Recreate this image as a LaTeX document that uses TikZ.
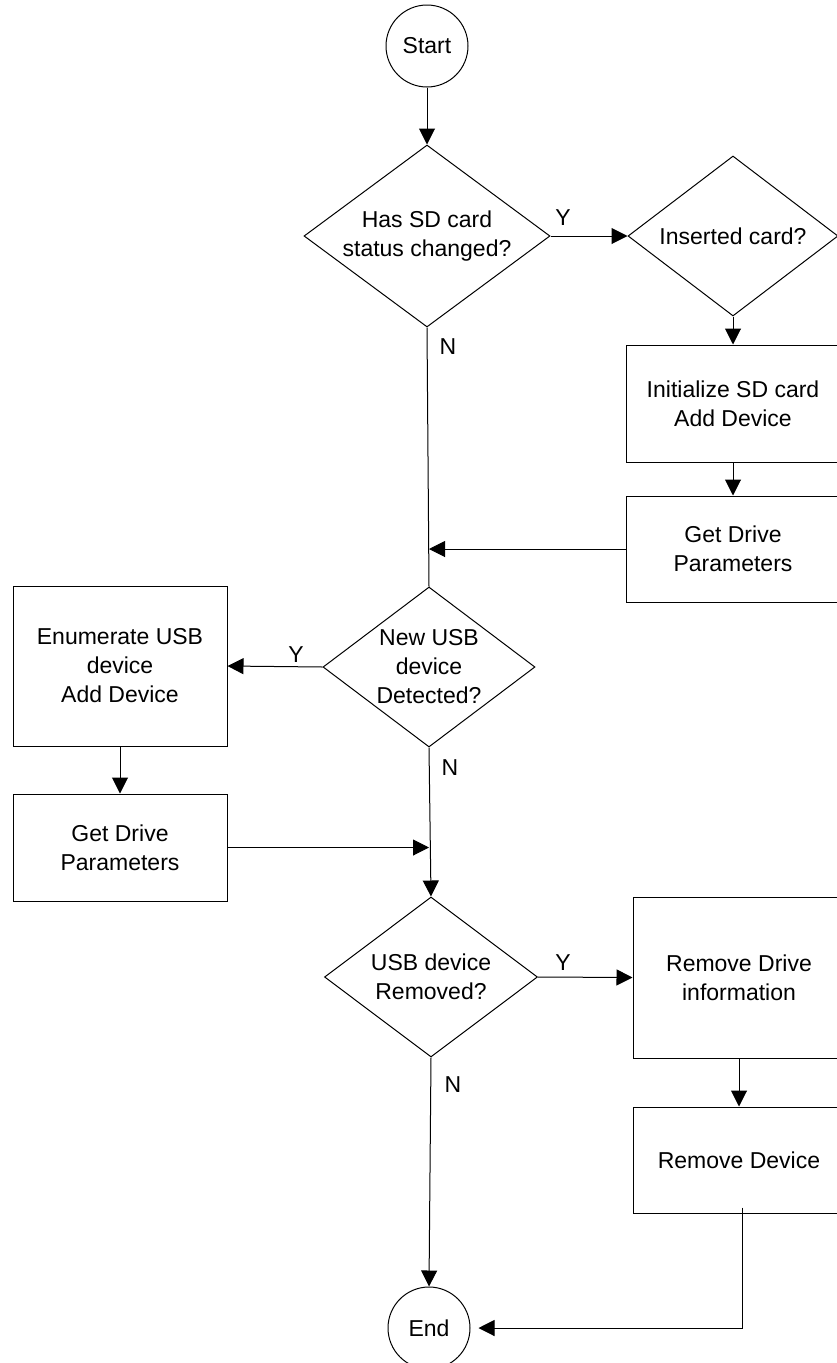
\documentclass[tikz,border=0pt]{standalone}
\usepackage{fontspec}
\setmainfont{Liberation Sans}
\usetikzlibrary{shapes.geometric,arrows.meta}
\begin{document}
\begin{tikzpicture}[x=1pt,y=-1pt,
  every node/.style={font=\fontsize{23}{29}\selectfont, text=black},
  line/.style={draw=black, line width=1pt},
  arr/.style={line, -{Triangle[length=16pt,width=16pt]}},
  term/.style={circle, draw=black, line width=1pt, minimum size=82pt, inner sep=0pt},
  dec/.style={diamond, draw=black, line width=1pt, inner sep=0pt},
  proc/.style={rectangle, draw=black, line width=1pt, inner sep=0pt, align=center},
  lab/.style={align=center, inner sep=0pt}]
\useasboundingbox (0,0) rectangle (836,1363);
\fill[white] (0,0) rectangle (836,1363);

% terminals
\node[term] (start) at (427,46) {Start};
\node[term] (end) at (429,1328) {End};

% decisions
\node[dec, minimum width=246pt, minimum height=182pt] (d1) at (427,236) {};
\node[lab] (d1t) at (427,236) {Has SD card\\status changed?};
\node[dec, minimum width=210pt, minimum height=160pt] (d2) at (733,236) {};
\node[lab] (d2t) at (733,236) {Inserted card?};
\node[dec, minimum width=212pt, minimum height=160pt] (d3) at (429,667) {};
\node[lab] (d3t) at (429,667) {New USB\\device\\Detected?};
\node[dec, minimum width=213pt, minimum height=160pt] (d4) at (431,977) {};
\node[lab] (d4t) at (431,977) {USB device\\Removed?};

% processes
\node[proc, minimum width=214pt, minimum height=117pt] (b1) at (733,403.5) {Initialize SD card\\Add Device};
\node[proc, minimum width=214pt, minimum height=106pt] (b2) at (733,549) {Get Drive\\Parameters};
\node[proc, minimum width=214pt, minimum height=160pt] (b3) at (120,666) {Enumerate USB\\device\\Add Device};
\node[proc, minimum width=214pt, minimum height=107pt] (b4) at (120,847.5) {Get Drive\\Parameters};
\node[proc, minimum width=212pt, minimum height=161pt] (b5) at (739,977.5) {Remove Drive\\information};
\node[proc, minimum width=212pt, minimum height=106pt] (b6) at (739,1160) {Remove Device};

% branch labels
\node[lab] (y1) at (563,218) {Y};
\node[lab] (n1) at (448,347) {N};
\node[lab] (y3) at (296,655) {Y};
\node[lab] (n3) at (450,768) {N};
\node[lab] (y4) at (563,963) {Y};
\node[lab] (n4) at (453,1085) {N};

% connectors
\draw[arr] (start.south) -- (d1.north);
\draw[arr] (d1.east) -- (d2.west);
\draw[arr] (d2.south) -- (b1.north);
\draw[arr] (b1.south) -- (b2.north);
\draw[line] (d1.south) -- (d3.north);
\draw[arr] (b2.west) -- (b2.west -| d3.north);
\draw[arr] (d3.west) -- (b3.east);
\draw[arr] (b3.south) -- (b4.north);
\draw[arr] (b4.east) -- (b4.east -| d3.south);
\draw[arr] (d3.south) -- (d4.north);
\draw[arr] (d4.east) -- (b5.west);
\draw[arr] (b5.south) -- (b6.north);
\draw[arr] (d4.south) -- (end.north);
\draw[arr] ([shift={(3,-6)}]b6.south) |- ([xshift=8pt]end.east);
\end{tikzpicture}
\end{document}
